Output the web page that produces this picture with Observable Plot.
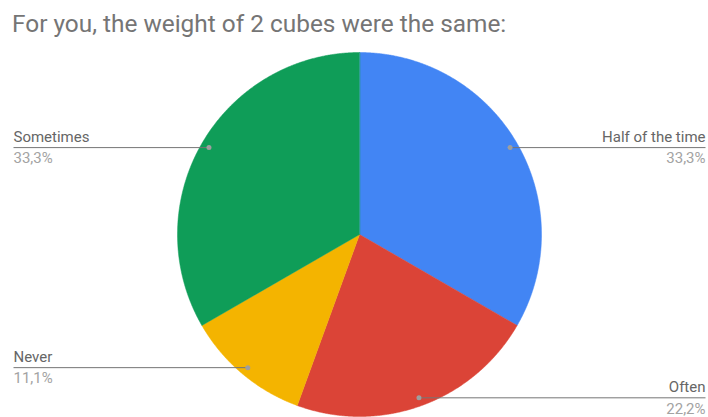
<!DOCTYPE html>
<html>
<head>
<meta charset="utf-8">
<script src="https://cdn.jsdelivr.net/npm/d3@7"></script>
<script src="https://cdn.jsdelivr.net/npm/@observablehq/plot@0.6"></script>
<style>
  html, body { margin: 0; padding: 0; background: #fff; }
  #wrap { width: 708px; height: 417px; overflow: hidden; }
  .title { font-family: Roboto, sans-serif; font-size: 24.4px; color: #757575; height: 40px; box-sizing: border-box; padding: 10px 0 0 12px; line-height: 28px; white-space: nowrap; }
</style>
</head>
<body>
<div id="wrap">
  <div class="title">For you, the weight of 2 cubes were the same:</div>
  <div id="chart"></div>
</div>
<script>
const categories = ["Half of the time", "Often", "Never", "Sometimes"];
const percents = [33.3, 22.2, 11.1, 33.3];
const percentLabels = ["33,3%", "22,2%", "11,1%", "33,3%"];
const colors = ["#4285F4", "#DB4437", "#F4B400", "#0F9D58"];

// layout (pixels)
const W = 708, H = 377, CX = 359, CY = 194, R = 182;
const DOT_R = 0.955, LEFT_END = 13, RIGHT_END = 705;

const arcs = d3.pie().sort(null).value(d => d.v)(categories.map((c, i) => ({c, v: percents[i], p: percentLabels[i]})));

const poly = [];
for (const a of arcs) {
  poly.push({c: a.data.c, x: 0, y: 0});
  const n = Math.max(2, Math.ceil((a.endAngle - a.startAngle) / 0.005));
  for (let k = 0; k <= n; k++) {
    const t = a.startAngle + (a.endAngle - a.startAngle) * k / n;
    poly.push({c: a.data.c, x: Math.sin(t), y: Math.cos(t)});
  }
}

const labels = arcs.map(a => {
  const m = (a.startAngle + a.endAngle) / 2;
  const x = DOT_R * Math.sin(m), y = DOT_R * Math.cos(m);
  const right = x > 0;
  const ex = ((right ? RIGHT_END : LEFT_END) - CX) / R;
  return {c: a.data.c, p: a.data.p, x, y, ex, anchor: right ? "end" : "start"};
});

const chart = Plot.plot({
  width: W, height: H,
  margin: 0,
  x: {domain: [-CX / R, (W - CX) / R], range: [0, W], axis: null},
  y: {domain: [-(H - CY) / R, CY / R], range: [H, 0], axis: null},
  color: {domain: categories, range: colors},
  style: {fontFamily: "Roboto, sans-serif", background: "#fff"},
  marks: [
    Plot.line(poly, {x: "x", y: "y", z: "c", fill: "c", stroke: "c", strokeWidth: 0.5, curve: "linear-closed"}),
    Plot.link(labels, {x1: "x", y1: "y", x2: "ex", y2: "y", stroke: "#757575", strokeWidth: 1}),
    Plot.dot(labels, {x: "x", y: "y", r: 2.5, fill: "#9e9e9e", stroke: null}),
    Plot.text(labels.filter(d => d.anchor === "start"), {x: "ex", y: "y", text: "c", textAnchor: "start", dy: -10.5, fontSize: 15, fill: "#666"}),
    Plot.text(labels.filter(d => d.anchor === "end"), {x: "ex", y: "y", text: "c", textAnchor: "end", dy: -10.5, fontSize: 15, fill: "#666"}),
    Plot.text(labels.filter(d => d.anchor === "start"), {x: "ex", y: "y", text: "p", textAnchor: "start", dy: 11, fontSize: 15, fill: "#a3a3a3"}),
    Plot.text(labels.filter(d => d.anchor === "end"), {x: "ex", y: "y", text: "p", textAnchor: "end", dy: 11, fontSize: 15, fill: "#a3a3a3"})
  ]
});
document.getElementById("chart").appendChild(chart);
</script>
</body>
</html>
